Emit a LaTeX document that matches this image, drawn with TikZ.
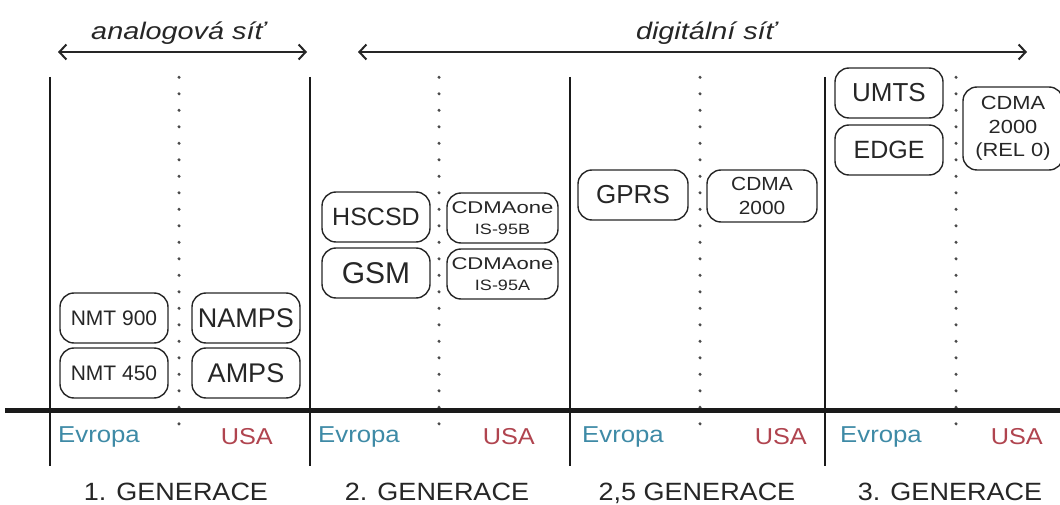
\documentclass[tikz,border=0pt]{standalone}
\usepackage{fontspec}
\setmainfont{Liberation Sans}
\usetikzlibrary{arrows.meta}
\definecolor{ink}{HTML}{262626}
\definecolor{rule}{HTML}{1A1A1A}
\definecolor{dotc}{HTML}{4A4A4A}
\definecolor{eu}{HTML}{3E8AA6}
\definecolor{us}{HTML}{B0444F}
% horizontally widened text
\newcommand{\hwide}[2]{\scalebox{#1}[1]{#2}}
\newcommand{\fs}[1]{\fontsize{#1}{#1}\selectfont}

\begin{document}
\begin{tikzpicture}[x=1pt,y=-1pt,
  sys/.style={draw=ink, line width=1.4pt, rounded corners=14pt, text=ink,
              inner sep=0pt, align=center, minimum width=108pt, minimum height=50pt},
  sysnarrow/.style={sys, minimum width=111pt},
  eralabel/.style={text=ink, font=\fs{24}\itshape, inner sep=0pt},
  genlabel/.style={text=ink, font=\fs{25}, inner sep=0pt},
  eulabel/.style={text=eu, font=\fs{23}, inner sep=0pt, anchor=base west},
  uslabel/.style={text=us, font=\fs{23}, inner sep=0pt, anchor=base east},
  divider/.style={draw=rule, line width=2.5pt},
  era/.style={draw=ink, line width=2pt, {Straight Barb[length=7pt,width=15pt]}-{Straight Barb[length=7pt,width=15pt]}},
]
\useasboundingbox (0,0) rectangle (1060,505);

% dotted separators between Europe and USA
\foreach \dx in {179,439,700,956}{
  \foreach \k in {0,...,21}{
    \fill[dotc] (\dx,77.3+16.5*\k) circle (1.7pt);
  }
}

% solid generation dividers
\foreach \n/\dx in {a/50,b/310,c/570,d/825}{
  \coordinate (top\n) at (\dx,77);
  \coordinate (bot\n) at (\dx,466);
  \draw[divider] (top\n) -- (bot\n);
}

% base line
\coordinate (baseL) at (5,410);
\coordinate (baseR) at (1060,410);
\draw[draw=rule, line width=5pt] (baseL) -- (baseR);

% network eras
\coordinate (anaL) at (58,52);
\coordinate (anaR) at (307,52);
\coordinate (digL) at (358,52);
\coordinate (digR) at (1027,52);
\draw[era] (anaL) -- (anaR);
\draw[era] (digL) -- (digR);
\node[eralabel, anchor=base] (ana) at (178,40) {\hwide{1.2}{analogová síť}};
\node[eralabel, anchor=base] (dig) at (706,40) {\hwide{1.2}{digitální síť}};

% 1st generation
\node[sys] (nmt900) at (114,318) {\fs{21}NMT 900};
\node[sys] (nmt450) at (114,373) {\fs{21}NMT 450};
\node[sys] (namps)  at (246,318) {\fs{27}NAMPS};
\node[sys] (amps)   at (246,373) {\fs{27}AMPS};

% 2nd generation
\node[sys] (hscsd) at (376,217) {\fs{25}HSCSD};
\node[sys] (gsm)   at (376,273) {\fs{30}GSM};
\node[sysnarrow, font=\fontsize{17}{21}\selectfont] (is95b) at (502.5,218)
  {\hwide{1.3}{CDMAone}\\\fontsize{15}{21}\selectfont\hwide{1.2}{IS-95B}};
\node[sysnarrow, font=\fontsize{17}{21}\selectfont] (is95a) at (502.5,274)
  {\hwide{1.3}{CDMAone}\\\fontsize{15}{21}\selectfont\hwide{1.2}{IS-95A}};

% 2.5th generation
\node[sys, minimum width=110pt] (gprs) at (633,195) {\fs{26}GPRS};
\node[sys, minimum width=110pt, minimum height=52pt, font=\fontsize{19}{24}\selectfont]
  (cdma2000) at (762,196) {\hwide{1.1}{CDMA}\\\hwide{1.1}{2000}};

% 3rd generation
\node[sys] (umts) at (889,93)  {\fs{26}UMTS};
\node[sys] (edge) at (889,150) {\fs{25}EDGE};
\node[sys, minimum width=100pt, minimum height=83pt, font=\fontsize{19}{23.5}\selectfont]
  (rel0) at (1013,128.5)
  {\hwide{1.15}{CDMA}\\\hwide{1.15}{2000}\\\hwide{1.15}{(REL 0)}};

% regions
\foreach \n/\ex/\ux in {1/58/273,2/318/535,3/582/807,4/840/1043}{
  \node[eulabel] (eu\n) at (\ex,442) {\hwide{1.12}{Evropa}};
  \node[uslabel] (us\n) at (\ux,444) {\hwide{1.1}{USA}};
}

% generation captions
\node[genlabel, anchor=base] (g1) at (176,500) {\hwide{1.08}{1. GENERACE}};
\node[genlabel, anchor=base] (g2) at (437,500) {\hwide{1.08}{2. GENERACE}};
\node[genlabel, anchor=base] (g3) at (697,500) {\hwide{1.08}{2,5 GENERACE}};
\node[genlabel, anchor=base] (g4) at (950,500) {\hwide{1.08}{3. GENERACE}};
\end{tikzpicture}
\end{document}
